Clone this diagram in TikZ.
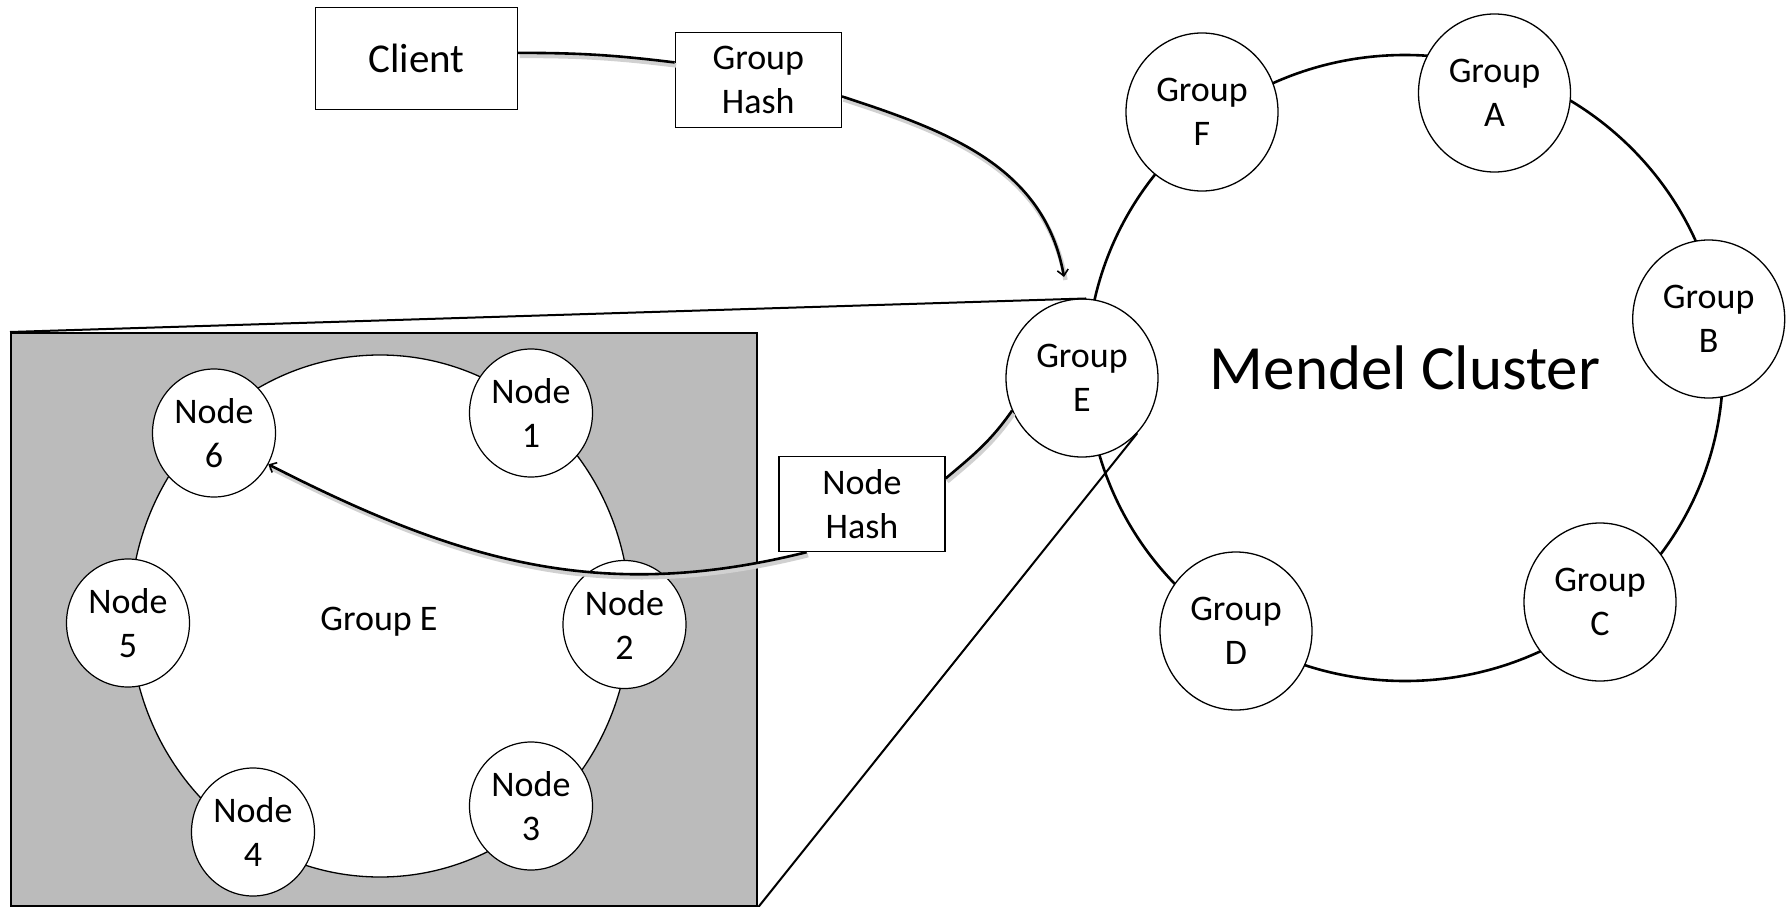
\documentclass[tikz,border=0pt]{standalone}
\usepackage{fontspec}
\setmainfont{Carlito}
\usetikzlibrary{shapes.geometric,arrows.meta}
\definecolor{boxgray}{RGB}{187,187,187}
\begin{document}
\begin{tikzpicture}[x=1pt,y=1pt,
  lbl/.style={font=\fontsize{36}{44}\selectfont, align=center},
  grp/.style={lbl, ellipse, draw, line width=1.3pt, fill=white, minimum width=152pt, minimum height=158pt, inner sep=0pt},
  nd/.style={lbl, ellipse, draw, line width=1.2pt, fill=white, minimum width=123pt, minimum height=128pt, inner sep=0pt},
  hashbox/.style={lbl, draw, line width=1.3pt, fill=white, minimum width=166pt, minimum height=95pt, inner sep=0pt},
  ringline/.style={line width=2.6pt},
  conn/.style={line width=2.6pt},
  shad/.style={draw=black!18, line width=4.5pt},
  tipend/.style={-{Straight Barb[length=6pt,width=11pt,line width=1.6pt]}}
]
\useasboundingbox (0,0) rectangle (1786,-907);

% Mendel cluster ring
\draw[ringline] (1405,-368) ellipse [x radius=318pt, y radius=313pt];
\node[font=\fontsize{63}{75}\selectfont] (title) at (1405,-368) {Mendel Cluster};

% zoomed group box
\node[draw, line width=2.2pt, fill=boxgray, minimum width=746pt, minimum height=573pt, anchor=north west, inner sep=0pt] (Zoom) at (10,-332) {};
\draw[line width=1.3pt, fill=white] (380,-616) ellipse [x radius=250pt, y radius=261pt];
\node[lbl] (GElabel) at (379,-622) {Group E};

% group nodes
\node[grp] (GF) at (1202,-112) {Group\\F};
\node[grp] (GA) at (1494.5,-93) {Group\\A};
\node[grp] (GB) at (1708.7,-319) {Group\\B};
\node[grp] (GC) at (1600,-602) {Group\\C};
\node[grp] (GD) at (1236,-631) {Group\\D};
\node[grp] (GE) at (1082,-378) {Group\\E};

% nodes of group E
\node[nd] (N1) at (531,-413) {Node\\1};
\node[nd] (N2) at (624.5,-624.5) {Node\\2};
\node[nd] (N3) at (531,-806) {Node\\3};
\node[nd] (N4) at (253,-832) {Node\\4};
\node[nd] (N5) at (128,-623) {Node\\5};
\node[nd] (N6) at (214,-433) {Node\\6};

% zoom lines
\draw[line width=2pt] (Zoom.north west) -- (GE.87);
\draw[line width=2pt] (GE.-45) -- (Zoom.south east);

% boxes
\node[draw, line width=1.3pt, fill=white, minimum width=202pt, minimum height=102pt, inner sep=0pt, font=\fontsize{41}{50}\selectfont] (Client) at (416.4,-58.2) {Client};
\node[hashbox] (GH) at (758.3,-80.2) {Group\\Hash};
\node[hashbox] (NH) at (862,-504) {Node\\Hash};
\coordinate (ghtip) at (1064,-277);

% shadows
\begin{scope}[transform canvas={shift={(1.5pt,-3pt)}}]
\draw[shad] (Client.3) to[out=0,in=173] (GH.168);
\draw[shad] (GH.-11) to[out=-18,in=100] (ghtip);
\draw[shad] (GE.205) to[out=-125,in=40] (NH.17);
\draw[shad] (NH.221) to[out=194,in=-27] (N6.-30);
\end{scope}

% connectors
\draw[conn] (Client.3) to[out=0,in=173] (GH.168);
\draw[conn, tipend] (GH.-11) to[out=-18,in=100] (ghtip);
\draw[conn] (GE.205) to[out=-125,in=40] (NH.17);
\draw[conn, tipend] (NH.221) to[out=194,in=-27] (N6.-30);
\end{tikzpicture}
\end{document}
